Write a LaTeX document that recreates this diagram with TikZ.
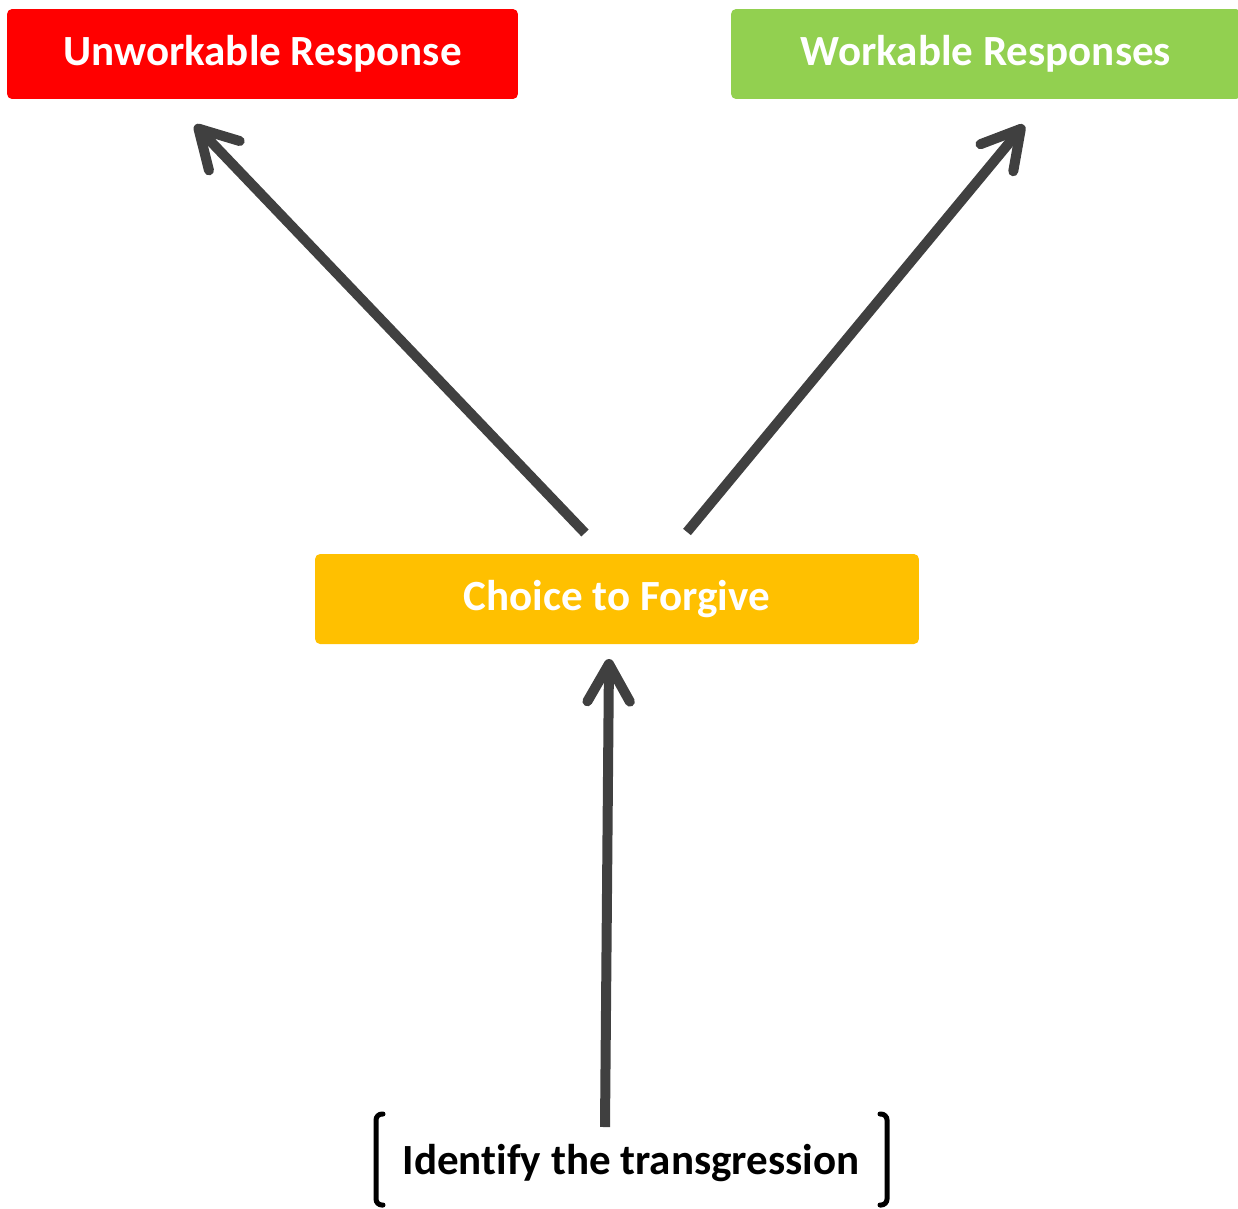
\documentclass[tikz,border=0pt]{standalone}
\usepackage{fontspec}
\setmainfont{Carlito}[Ligatures=NoCommon]
\usetikzlibrary{positioning,arrows.meta}
\definecolor{badred}{RGB}{255, 0, 0}
\definecolor{goodgreen}{RGB}{146, 208, 80}
\definecolor{choiceyellow}{RGB}{255, 192, 0}
\definecolor{arrowgray}{RGB}{64, 64, 64}

\begin{document}
\begin{tikzpicture}[x=0.02cm, y=-0.02cm,
        rbox/.style={rounded corners=0.1cm, minimum height=1.8cm,
                    text=white, font=\fontsize{24.5}{28}\selectfont\bfseries},
        choice/.style={-{Straight Barb[round, length=0.75cm, width=0.85cm]},
                    line width=0.2cm, arrowgray},
        bracket/.style={line width=0.1cm, rounded corners=0.12cm, line cap=round}
    ]
    \useasboundingbox (0,0) rectangle (1238,1208);

    % Top row — responses
    \node[rbox, fill=badred, minimum width=10.22cm] (unwork) at (262.5, 54) {Unworkable Response};
    \begin{scope}
        \clip (0,0) rectangle (1238,1208);
        \node[rbox, fill=goodgreen, minimum width=10.2cm] (work) at (986, 54) {Workable Responses};
    \end{scope}

    % Middle — the choice
    \node[rbox, fill=choiceyellow, minimum width=12.08cm] (forgive) at (617, 599) {Choice to Forgive};

    % Bottom — starting point
    \node[anchor=base, font=\fontsize{24.5}{30}\selectfont\bfseries] (ident) at (631, 1174) {Identify the transgression};
    \draw[bracket] (383,1114) -- (376,1114) -- (376,1205) -- (383,1205);
    \draw[bracket] (880,1114) -- (887,1114) -- (887,1205) -- (880,1205);

    % Arrow ends
    \coordinate (toL)   at (195, 125);
    \coordinate (fromL) at (585, 533);
    \coordinate (toR)   at (1024, 125);
    \coordinate (fromR) at (687, 532);
    \coordinate (toC)   at (609, 659);
    \coordinate (fromC) at (605, 1127);

    % Connections
    \draw[choice] (fromL) -- (toL);
    \draw[choice] (fromR) -- (toR);
    \draw[choice] (fromC) -- (toC);

\end{tikzpicture}
\end{document}
